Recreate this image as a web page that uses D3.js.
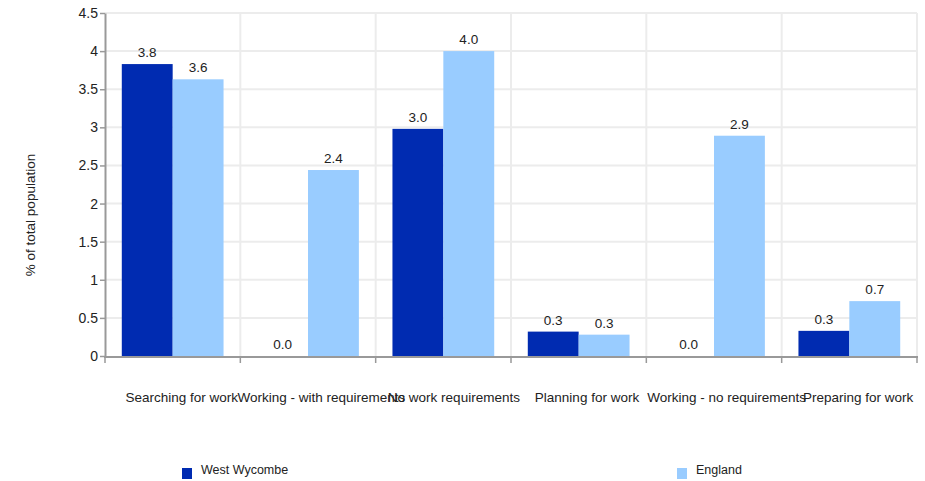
<!DOCTYPE html>
<html><head><meta charset="utf-8">
<script src="https://cdn.jsdelivr.net/npm/d3@7"></script>
<style>body{margin:0;background:#fff}svg{display:block;font-family:"Liberation Sans",Arial,sans-serif}</style>
</head><body><svg id="c" width="925" height="481"></svg>
<script>
const categories=["Searching for work","Working - with requirements","No work requirements","Planning for work","Working - no requirements","Preparing for work"];
const seriesNames=["West Wycombe","England"];
const westWycombe=[3.83,0,2.98,0.32,0,0.33];
const england=[3.63,2.44,4.0,0.28,2.89,0.72];
const yTicks=[0,0.5,1,1.5,2,2.5,3,3.5,4,4.5];
const colors=["#002BB1","#99CCFF"];

const svg=d3.select("#c");
const L=105,R=917,T=13,B=356;
const x0=d3.scaleBand().domain(categories).range([L,R]).paddingInner(0).paddingOuter(0);
const x1=d3.scaleBand().domain(seriesNames).range([0,x0.bandwidth()]).paddingInner(0).paddingOuter(0.33);
const y=d3.scaleLinear().domain([0,4.5]).range([B,T]);

// gridlines
const g=svg.append("g");
g.selectAll("line.h").data(yTicks.slice(1)).join("line")
 .attr("x1",L).attr("x2",R).attr("y1",d=>y(d)).attr("y2",d=>y(d))
 .attr("stroke","#ececec").attr("stroke-width",2);
const bounds=categories.map(c=>x0(c)).concat([R]);
g.selectAll("line.v").data(bounds.slice(1)).join("line")
 .attr("x1",d=>d).attr("x2",d=>d)
 .attr("y1",T).attr("y2",B).attr("stroke","#ececec").attr("stroke-width",2);

const data=categories.map((c,i)=>({c,vals:[westWycombe[i],england[i]]}));
const grp=svg.append("g").selectAll("g").data(data).join("g").attr("transform",d=>`translate(${x0(d.c)},0)`);
grp.selectAll("rect").data(d=>d.vals.map((v,k)=>({v,k}))).join("rect")
 .attr("x",d=>x1(seriesNames[d.k])).attr("width",x1.bandwidth())
 .attr("y",d=>y(d.v)).attr("height",d=>B-y(d.v)).attr("fill",d=>colors[d.k]);
grp.selectAll("text").data(d=>d.vals.map((v,k)=>({v,k}))).join("text")
 .attr("x",d=>x1(seriesNames[d.k])+x1.bandwidth()/2).attr("y",d=>y(d.v)-7)
 .attr("text-anchor","middle").attr("font-size",13.5).attr("fill","#222")
 .text(d=>d.v.toFixed(1));

// y axis
const ya=svg.append("g").attr("transform",`translate(${L},0)`)
 .call(d3.axisLeft(y).tickValues(yTicks).tickSize(5).tickSizeOuter(0).tickFormat(d=>d3.format("")(d)));
ya.select(".domain").attr("stroke","#999").attr("stroke-width",2);
ya.selectAll(".tick line").attr("stroke","#999").attr("stroke-width",1.5);
ya.selectAll(".tick text").attr("font-size",14).attr("fill","#222").attr("font-family","Liberation Sans, Arial, sans-serif").attr("x",-7);

// x axis
const xa=svg.append("g");
xa.append("line").attr("x1",L-1).attr("x2",R+1).attr("y1",B+1).attr("y2",B+1).attr("stroke","#999").attr("stroke-width",2);
xa.selectAll("line.t").data(bounds).join("line").attr("class","t")
 .attr("x1",d=>d).attr("x2",d=>d).attr("y1",B).attr("y2",B+7).attr("stroke","#999").attr("stroke-width",1.5);
xa.selectAll("text").data(categories).join("text")
 .attr("y",402).attr("text-anchor","start")
 .attr("font-size",13.5).attr("fill","#222").text(d=>d)
 .each(function(d){const w=this.getComputedTextLength();d3.select(this).attr("x",x0(d)+x0.bandwidth()/2-0.42*w);});

// y title
svg.append("text").attr("transform","translate(35,215) rotate(-90)").attr("text-anchor","middle")
 .attr("font-size",13.5).attr("fill","#222").text("% of total population");

// legend
const legX=[182,677];
const leg=svg.append("g").selectAll("g").data(seriesNames).join("g").attr("transform",(d,i)=>`translate(${legX[i]},0)`);
leg.append("rect").attr("x",0).attr("y",468).attr("width",10).attr("height",11).attr("fill",(d,i)=>colors[i]);
leg.append("text").attr("x",19).attr("y",474).attr("font-size",12.5).attr("fill","#222").text(d=>d);
</script></body></html>
